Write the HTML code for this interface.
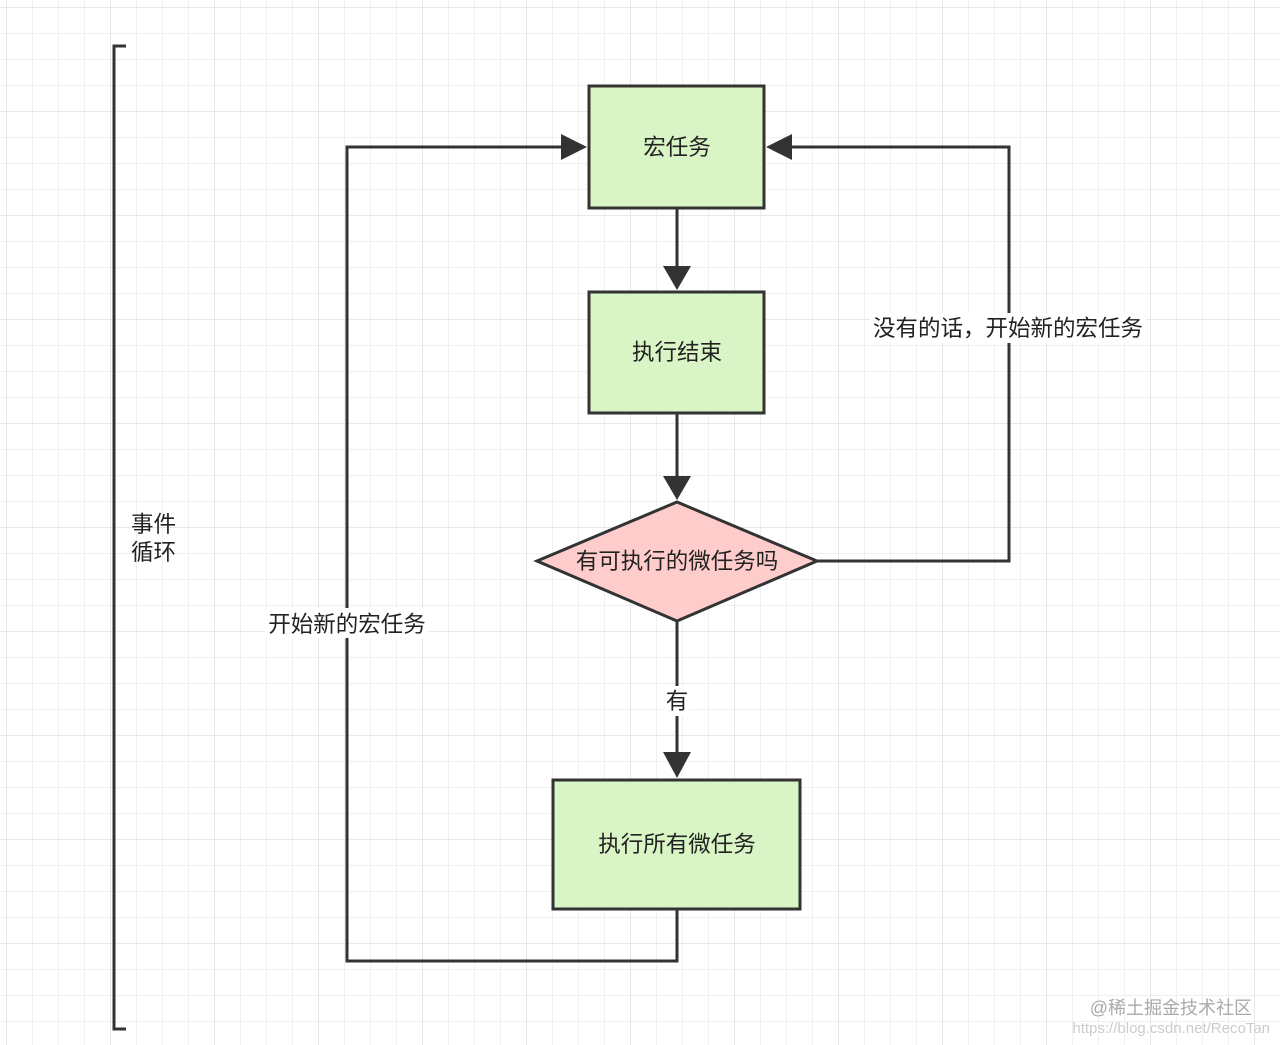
<!DOCTYPE html>
<html><head><meta charset="utf-8"><style>
html,body{margin:0;padding:0;background:#fff;}
svg{display:block;}
text{font-family:"Liberation Sans","Noto Sans CJK SC",sans-serif;font-size:22.5px;fill:#222;}
</style></head><body>
<svg width="1280" height="1045" viewBox="0 0 1280 1045" xmlns="http://www.w3.org/2000/svg">
<defs>
<pattern id="g" x="6" y="7" width="26" height="26" patternUnits="userSpaceOnUse">
<path d="M0 0H26M0 0V26" stroke="#ebebeb" stroke-width="1.5" fill="none"/>
</pattern>
<pattern id="G" x="6" y="7" width="104" height="104" patternUnits="userSpaceOnUse">
<path d="M0 0H104M0 0V104" stroke="#e4e4e4" stroke-width="1.5" fill="none"/>
</pattern>
</defs>
<rect width="1280" height="1045" fill="url(#g)"/>
<rect width="1280" height="1045" fill="url(#G)"/>
<g stroke="#333" stroke-width="3" fill="none">
<path d="M126 46H114V1029H126"/>
<rect x="589" y="86" width="175" height="122" fill="#d9f5c6"/>
<rect x="589" y="292" width="175" height="121" fill="#d9f5c6"/>
<polygon points="677,502 817,561 677,621 537,561" fill="#ffcccc"/>
<rect x="553" y="780" width="247" height="129" fill="#d9f5c6"/>
</g>
<g stroke="#333" stroke-width="3" fill="none">
<path d="M677 208V272"/><path d="M663 266L677 290L691 266Z" fill="#333" stroke="none"/>
<path d="M677 413V482"/><path d="M663 476L677 500L691 476Z" fill="#333" stroke="none"/>
<path d="M677 621V758"/><path d="M663 752L677 778L691 752Z" fill="#333" stroke="none"/>
<path d="M677 909V961H347V147H565"/><path d="M561 134L587 147L561 160Z" fill="#333" stroke="none"/>
<path d="M817 561H1009V147H790"/><path d="M792 134L766 147L792 160Z" fill="#333" stroke="none"/>
</g>
<rect x="870" y="313" width="276" height="30" fill="#fff"/>
<rect x="265" y="608" width="164" height="30" fill="#fff"/>
<rect x="664" y="686" width="26" height="30" fill="#fff"/>
<text x="677" y="155" text-anchor="middle">宏任务</text>
<text x="677" y="360" text-anchor="middle">执行结束</text>
<text x="677" y="569" text-anchor="middle">有可执行的微任务吗</text>
<text x="677" y="852" text-anchor="middle">执行所有微任务</text>
<text x="677" y="709" text-anchor="middle">有</text>
<text x="347" y="632" text-anchor="middle">开始新的宏任务</text>
<text x="1008" y="336" text-anchor="middle">没有的话，开始新的宏任务</text>
<text x="131" y="532">事件</text>
<text x="131" y="560">循环</text>
<text x="1252" y="1014" text-anchor="end" style="font-size:18px;fill:#aaa">@稀土掘金技术社区</text>
<text x="1270" y="1033" text-anchor="end" style="font-size:15px;fill:#ccc">https://blog.csdn.net/RecoTan</text>
</svg>
</body></html>
